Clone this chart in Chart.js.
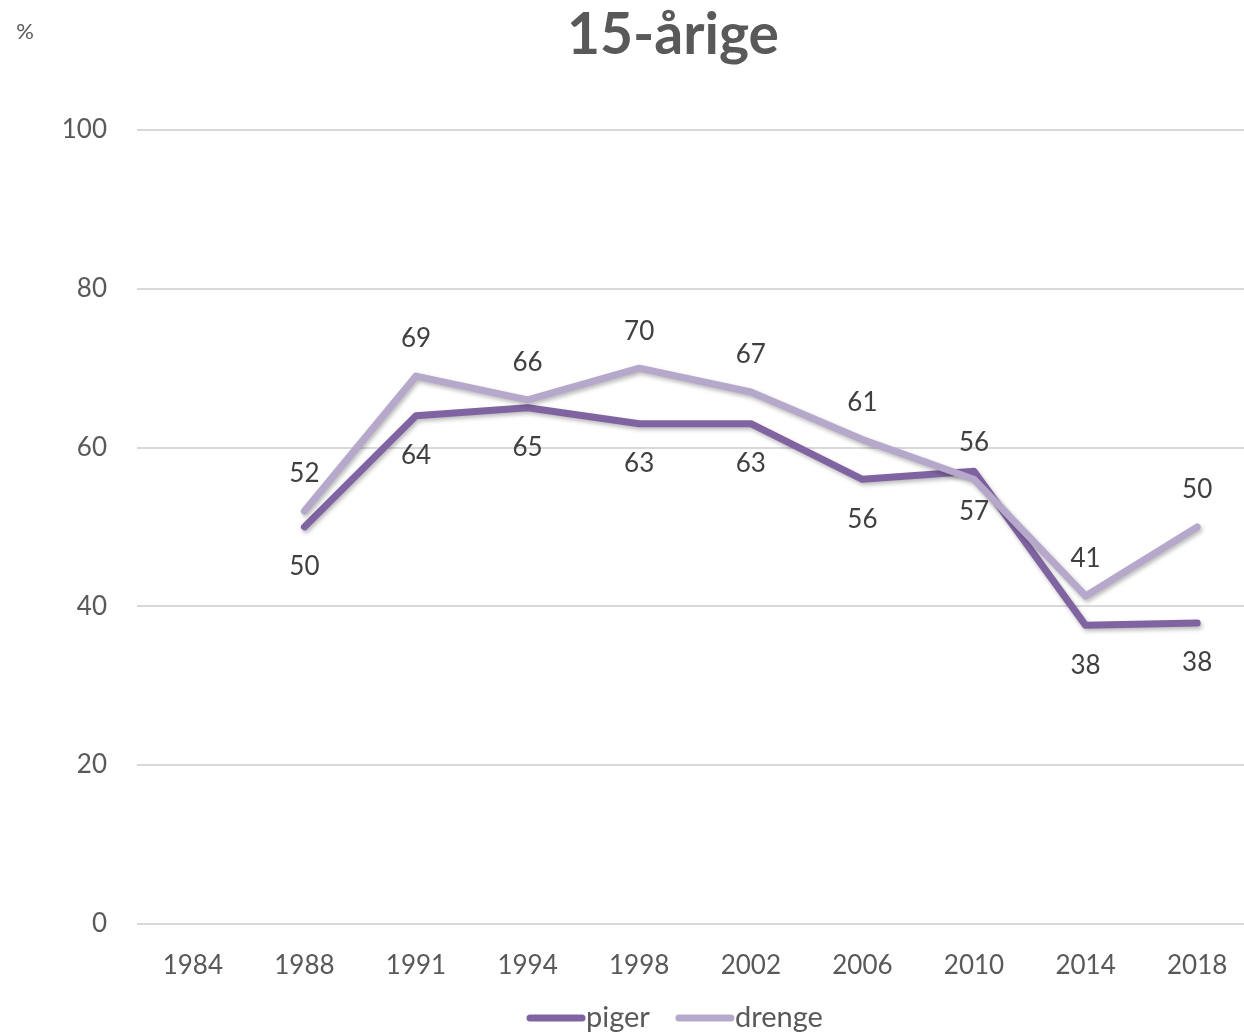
<!DOCTYPE html>
<html>
<head>
<meta charset="utf-8">
<script src="https://cdn.jsdelivr.net/npm/chart.js@4/dist/chart.umd.min.js"></script>
<style>
  html, body { margin: 0; padding: 0; background: #fff; }
  #wrap { width: 1244px; height: 1036px; position: relative; }
</style>
</head>
<body>
<div id="wrap"><canvas id="lineChart"></canvas></div>
<script>
// years on the x axis
var years = ["1984", "1988", "1991", "1994", "1998", "2002", "2006", "2010", "2014", "2018"];

// percent per year, girls and boys (no value for 1984)
var piger = [null, 50, 64, 65, 63, 63, 56, 57, 37.6, 37.9];
var drenge = [null, 52, 69, 66, 70, 67, 61, 56, 41.3, 50];

// y axis ticks
var yTicks = [0, 20, 40, 60, 80, 100];

var fontName = "Lato, 'Open Sans', sans-serif";
var textGrey = "#595959";

// title, "%" unit, legend, value labels and the shadow under the lines
var extras = {
    id: "extras",
    afterLayout: function(chart) {
        // the original plot runs a little past the right edge of the picture
        var s = chart.scales.x;
        s.right = s.right + 9;
        s.width = s.right - s.left;
        s.configure();
    },
    beforeDatasetDraw: function(chart, args) {
        var ctx = chart.ctx;
        ctx.save();
        ctx.shadowColor = "rgba(0,0,0,0.28)";
        ctx.shadowBlur = 4;
        ctx.shadowOffsetX = 1.5;
        ctx.shadowOffsetY = 2.5;
    },
    afterDatasetDraw: function(chart, args) {
        chart.ctx.restore();
    },
    afterDatasetsDraw: function(chart) {
        var ctx = chart.ctx;
        ctx.save();
        ctx.textBaseline = "middle";

        // value labels
        ctx.font = "26px " + fontName;
        ctx.fillStyle = "#404040";
        ctx.textAlign = "center";
        chart.data.datasets.forEach(function(ds, i) {
            var meta = chart.getDatasetMeta(i);
            var shift = ds.label === "piger" ? 40 : -37;
            meta.data.forEach(function(pt, j) {
                if (ds.data[j] === null) return;
                ctx.fillText(Math.round(ds.data[j]), pt.x, pt.y + shift);
            });
        });

        // title
        ctx.fillStyle = textGrey;
        ctx.font = "bold 57px " + fontName;
        ctx.fillText("15-årige", 673, 36);

        // unit
        ctx.font = "22px " + fontName;
        ctx.fillText("%", 25, 32);

        // legend
        ctx.font = "29px " + fontName;
        ctx.textAlign = "left";
        var x = 530;
        var y = 1018;
        chart.data.datasets.forEach(function(ds) {
            ctx.strokeStyle = ds.borderColor;
            ctx.lineWidth = 7;
            ctx.lineCap = "round";
            ctx.beginPath();
            ctx.moveTo(x, y);
            ctx.lineTo(x + 52, y);
            ctx.stroke();
            ctx.fillStyle = textGrey;
            ctx.fillText(ds.label, x + 56, y);
            x += 56 + ctx.measureText(ds.label).width + 29;
        });
        ctx.restore();
    }
};

new Chart(document.getElementById("lineChart"), {
    type: "line",
    data: {
        labels: years,
        datasets: [{
            label: "piger",
            data: piger,
            borderColor: "#8064A2",
            backgroundColor: "#8064A2",
            borderWidth: 7,
            borderCapStyle: "round",
            borderJoinStyle: "round",
            pointRadius: 0,
            tension: 0,
            order: 1
        }, {
            label: "drenge",
            data: drenge,
            borderColor: "#B5A8CA",
            backgroundColor: "#B5A8CA",
            borderWidth: 7,
            borderCapStyle: "round",
            borderJoinStyle: "round",
            pointRadius: 0,
            tension: 0,
            order: 0
        }]
    },
    options: {
        responsive: true,
        maintainAspectRatio: false,
        animation: false,
        layout: { padding: { left: 0, right: 0, top: 130, bottom: 37 } },
        plugins: {
            title: { display: false },
            legend: { display: false },
            tooltip: { enabled: false }
        },
        scales: {
            x: {
                offset: true,
                grid: { display: false },
                border: { display: false },
                ticks: {
                    color: textGrey,
                    font: { family: fontName, size: 26 },
                    padding: 18,
                    maxRotation: 0
                }
            },
            y: {
                min: 0,
                max: 100,
                afterBuildTicks: function(scale) {
                    scale.ticks = yTicks.map(function(v) { return { value: v }; });
                },
                afterFit: function(scale) { scale.width = 137; },
                grid: { color: "#D9D9D9", lineWidth: 2, drawTicks: false },
                border: { display: false },
                ticks: {
                    color: textGrey,
                    font: { family: fontName, size: 26 },
                    padding: 30
                }
            }
        }
    },
    plugins: [extras]
});
</script>
</body>
</html>
